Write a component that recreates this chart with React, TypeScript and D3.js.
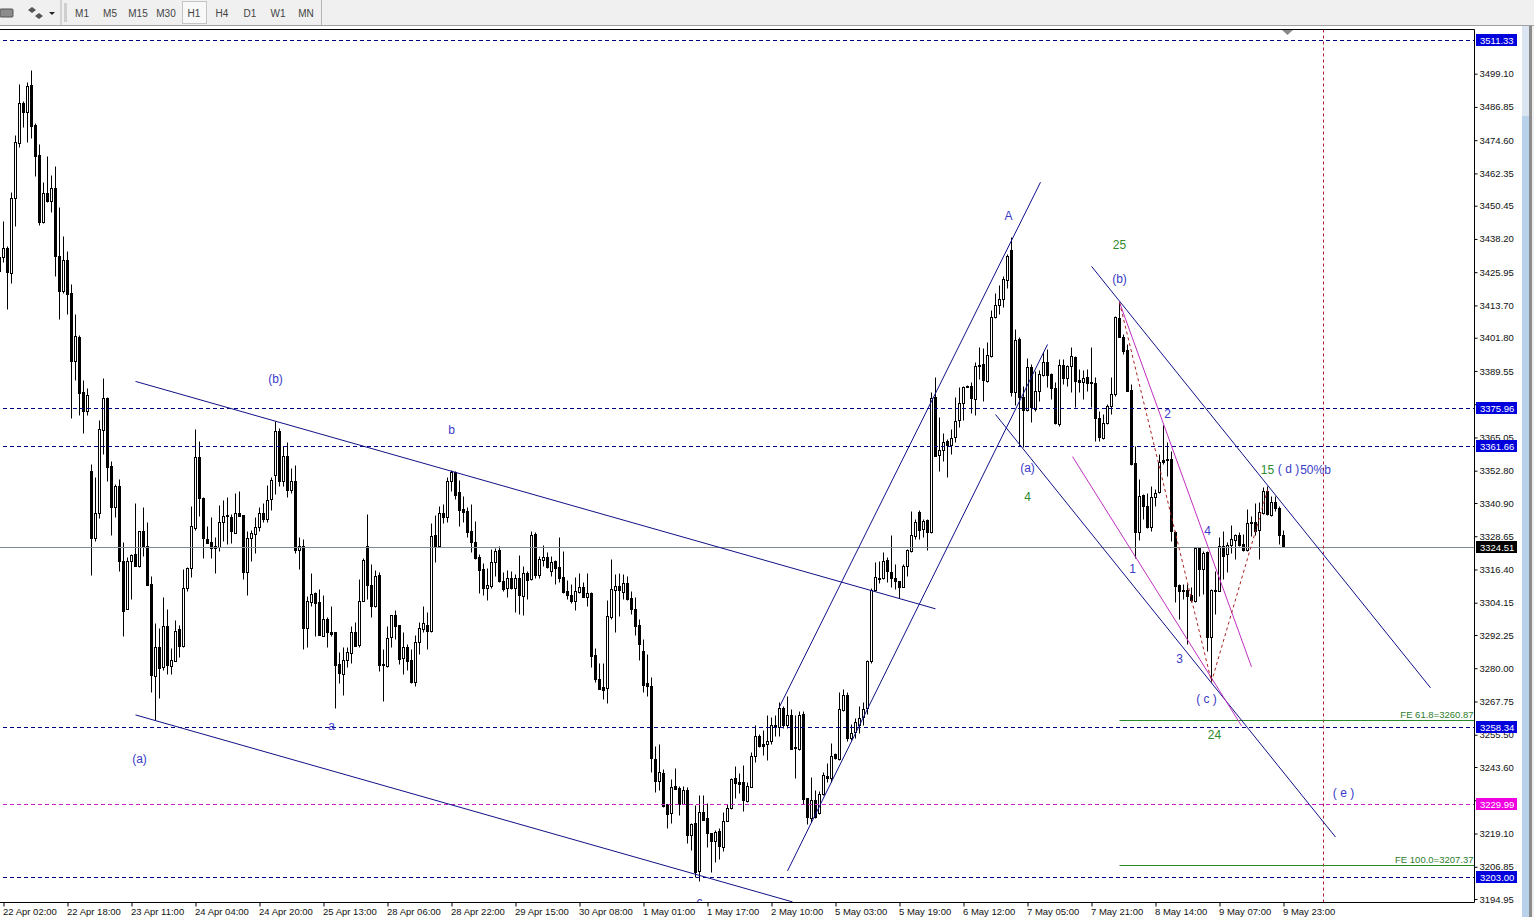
import { useEffect, useRef } from "react";
import * as d3 from "d3";

const opens = [
  3431.4,3431.4,3434.8,3425.5,3453.2,3473.5,3488.2,3484.9,3494.9,3480.1,
  3469.1,3444.3,3455.0,3452.1,3456.9,3431.8,3418.9,3430.3,3418.2,3393.1,
  3401.9,3381.6,3374.6,3352.5,3327.8,3337.0,3367.6,3379.4,3354.3,3339.2,
  3347.0,3319.3,3301.6,3319.3,3321.9,3317.4,3330.3,3324.8,3310.8,3276.9,
  3287.9,3280.2,3295.3,3280.9,3282.8,3294.2,3287.9,3309.3,3316.7,3331.5,
  3357.6,3342.5,3327.4,3326.3,3324.1,3324.4,3333.7,3336.2,3335.5,3329.6,
  3337.0,3336.2,3315.2,3327.8,3329.2,3331.8,3337.0,3334.8,3342.2,3351.0,
  3367.2,3348.8,3358.0,3345.5,3348.8,3323.3,3324.8,3294.6,3304.2,3307.5,
  3304.2,3292.0,3298.2,3293.4,3293.1,3281.6,3278.0,3282.8,3285.7,3293.4,
  3288.3,3304.5,3324.8,3310.4,3302.7,3314.1,3281.3,3280.9,3291.2,3299.4,
  3295.7,3283.5,3287.6,3282.8,3274.6,3289.4,3294.2,3295.7,3293.4,3328.9,
  3324.8,3337.0,3335.5,3348.8,3352.1,3344.7,3338.5,3337.7,3330.3,3326.3,
  3320.8,3316.3,3309.3,3310.1,3318.9,3323.3,3311.9,3309.3,3313.0,3309.3,
  3313.0,3306.4,3314.9,3312.6,3329.2,3314.1,3319.6,3320.8,3315.6,3319.3,
  3317.1,3313.4,3308.2,3306.7,3304.5,3307.8,3309.7,3306.0,3307.5,3284.6,
  3276.1,3272.8,3272.4,3298.6,3308.6,3310.1,3307.8,3311.2,3305.6,3301.9,
  3296.0,3286.4,3274.3,3273.2,3246.6,3238.5,3241.4,3230.0,3226.7,3236.6,
  3235.9,3230.0,3235.2,3218.6,3223.0,3205.3,3227.1,3224.8,3219.3,3216.3,
  3220.0,3214.1,3223.7,3228.5,3239.6,3238.1,3237.8,3231.1,3236.3,3247.7,
  3255.1,3252.1,3251.8,3252.9,3258.8,3258.4,3265.4,3259.1,3262.8,3250.7,
  3250.3,3263.2,3231.9,3224.8,3231.5,3226.7,3233.7,3240.0,3239.6,3248.4,
  3246.6,3264.7,3270.2,3254.3,3256.2,3259.1,3262.1,3265.0,3282.4,3308.6,
  3313.0,3313.0,3319.6,3315.2,3313.0,3311.9,3309.7,3317.4,3323.0,3328.5,
  3337.4,3331.1,3334.4,3330.0,3379.8,3358.4,3360.2,3363.5,3362.1,3365.0,
  3371.3,3377.6,3383.8,3383.8,3379.0,3391.2,3391.9,3385.7,3394.9,3409.3,
  3413.7,3415.9,3422.9,3434.0,3381.6,3401.2,3379.8,3375.0,3390.8,3375.4,
  3382.0,3387.9,3392.7,3388.3,3383.1,3369.8,3391.6,3386.8,3391.2,3394.5,
  3386.0,3385.3,3387.2,3385.3,3384.9,3372.0,3364.7,3370.2,3376.5,3380.9,
  3408.9,3401.9,3397.1,3382.4,3355.4,3330.0,3343.6,3339.6,3331.8,3342.9,
  3344.7,3356.5,3356.9,3356.9,3330.0,3310.4,3308.6,3308.6,3306.7,3304.5,
  3324.1,3316.3,3322.6,3291.2,3308.6,3308.2,3324.8,3321.9,3325.2,3327.0,
  3328.9,3325.5,3323.3,3333.7,3333.7,3330.7,3337.0,3345.1,3336.2,3341.0,
  3338.8,3328.9,
];
const highs = [
  3431.4,3444.7,3435.5,3455.4,3476.4,3495.2,3489.0,3496.0,3500.4,3480.9,
  3473.1,3459.1,3468.7,3461.7,3465.0,3449.9,3439.2,3433.6,3421.5,3410.4,
  3402.6,3386.0,3383.1,3355.1,3350.3,3371.3,3386.8,3379.8,3356.2,3347.7,
  3349.5,3326.3,3320.8,3321.9,3340.7,3330.3,3339.2,3333.7,3313.7,3296.4,
  3294.6,3306.0,3301.6,3287.2,3297.5,3295.7,3316.3,3317.1,3339.6,3368.0,
  3363.5,3342.9,3332.2,3335.5,3328.1,3339.9,3341.8,3342.9,3336.6,3344.4,
  3345.1,3336.2,3330.3,3330.7,3335.5,3339.2,3340.7,3347.3,3350.3,3370.9,
  3368.4,3361.7,3363.2,3353.6,3354.7,3328.1,3327.4,3306.4,3314.9,3307.9,
  3309.0,3306.7,3298.6,3303.0,3293.1,3285.7,3287.9,3287.6,3295.3,3297.1,
  3312.6,3320.4,3336.6,3318.2,3316.0,3315.2,3286.8,3295.3,3299.4,3301.2,
  3295.7,3293.1,3288.7,3286.8,3292.0,3297.1,3302.7,3300.8,3333.3,3336.2,
  3339.6,3340.3,3350.3,3352.8,3352.5,3349.2,3343.3,3339.2,3340.3,3334.0,
  3321.9,3318.5,3316.7,3323.7,3324.1,3324.8,3315.2,3316.0,3315.6,3314.5,
  3321.5,3317.4,3315.6,3330.3,3330.0,3321.1,3325.2,3322.6,3321.1,3319.6,
  3328.1,3323.0,3312.3,3310.8,3313.4,3314.9,3311.5,3314.9,3307.9,3287.2,
  3282.0,3282.0,3304.9,3320.0,3314.5,3314.9,3314.5,3313.7,3308.2,3306.0,
  3298.2,3290.5,3285.3,3276.5,3251.4,3252.1,3242.6,3230.0,3239.2,3243.3,
  3236.6,3236.6,3236.3,3223.0,3229.6,3233.0,3233.3,3230.4,3219.3,3220.4,
  3221.1,3227.1,3230.0,3239.6,3243.7,3241.4,3244.4,3237.8,3249.2,3258.8,
  3255.5,3257.3,3262.5,3262.1,3262.8,3267.3,3265.8,3269.5,3265.0,3262.8,
  3264.3,3264.3,3232.2,3239.9,3235.2,3234.8,3241.8,3245.1,3252.5,3248.8,
  3271.0,3272.4,3271.0,3259.5,3261.7,3265.8,3267.6,3283.1,3309.3,3318.9,
  3319.3,3322.6,3320.8,3328.9,3318.2,3311.9,3318.2,3323.7,3337.7,3334.8,
  3338.1,3334.8,3334.8,3381.6,3387.2,3372.4,3366.5,3364.3,3368.0,3379.8,
  3383.5,3383.8,3384.2,3385.3,3392.7,3398.2,3397.9,3400.1,3411.9,3418.1,
  3421.1,3424.4,3432.5,3438.8,3404.9,3401.9,3383.8,3394.2,3392.0,3389.4,
  3389.7,3396.4,3397.5,3388.6,3385.3,3393.8,3393.8,3391.6,3398.2,3394.9,
  3390.1,3389.7,3390.1,3398.2,3387.2,3374.6,3373.5,3377.2,3387.2,3409.7,
  3414.8,3403.0,3399.3,3384.6,3361.7,3349.5,3344.0,3344.4,3346.9,3345.8,
  3358.8,3369.5,3363.2,3359.9,3330.3,3310.8,3310.8,3310.8,3310.0,3324.4,
  3324.4,3323.0,3323.0,3309.0,3315.6,3328.1,3330.3,3326.3,3332.6,3329.2,
  3330.0,3329.2,3338.5,3335.9,3340.7,3341.0,3346.6,3346.9,3343.3,3343.3,
  3339.6,3330.7,
];
const lows = [
  3420.7,3429.6,3412.2,3421.8,3442.9,3472.0,3479.4,3473.9,3475.3,3461.3,
  3443.2,3444.0,3451.7,3448.0,3424.4,3408.6,3418.2,3410.4,3372.0,3386.0,
  3373.1,3366.5,3373.1,3314.1,3326.7,3335.1,3358.8,3348.8,3328.9,3335.5,
  3315.6,3291.6,3301.6,3305.3,3317.4,3317.1,3321.1,3310.4,3271.0,3261.0,
  3269.1,3279.4,3277.6,3277.6,3282.4,3283.9,3287.9,3308.2,3313.4,3330.7,
  3335.9,3320.4,3325.9,3320.4,3314.9,3323.0,3326.7,3325.5,3325.9,3329.6,
  3335.9,3312.6,3306.7,3319.3,3322.2,3330.3,3333.7,3333.7,3338.1,3344.0,
  3347.0,3347.0,3342.9,3344.4,3322.2,3316.3,3286.8,3287.6,3303.0,3291.6,
  3292.0,3292.0,3287.9,3291.6,3265.4,3274.6,3270.2,3280.2,3282.0,3288.3,
  3287.6,3304.5,3305.3,3298.6,3302.3,3278.7,3268.0,3280.5,3287.6,3290.5,
  3281.3,3277.6,3279.4,3274.6,3273.2,3285.0,3293.1,3286.8,3293.4,3318.9,
  3324.8,3333.3,3333.7,3345.1,3342.2,3332.2,3333.7,3328.1,3322.6,3320.0,
  3307.8,3306.7,3304.9,3309.3,3313.7,3311.5,3308.2,3306.0,3309.0,3300.5,
  3299.7,3299.4,3305.3,3312.3,3313.0,3313.0,3317.4,3316.7,3313.7,3310.8,
  3311.5,3307.8,3305.3,3303.8,3301.2,3307.8,3306.0,3303.0,3280.2,3275.0,
  3272.1,3268.4,3266.9,3298.2,3293.1,3299.0,3305.3,3304.9,3299.7,3292.0,
  3282.8,3271.0,3269.8,3241.8,3234.4,3235.2,3228.9,3221.1,3223.0,3235.5,
  3225.9,3230.0,3215.6,3213.0,3203.1,3201.6,3224.1,3214.1,3204.9,3208.6,
  3209.7,3212.7,3223.7,3228.2,3232.2,3234.1,3227.4,3230.7,3236.3,3245.5,
  3250.7,3248.1,3245.9,3251.8,3255.1,3255.1,3257.7,3258.0,3250.3,3239.6,
  3249.9,3230.0,3222.6,3223.4,3224.8,3226.3,3233.3,3238.1,3238.1,3246.6,
  3246.2,3264.3,3253.2,3253.6,3254.3,3256.2,3259.1,3263.2,3282.0,3308.2,
  3311.2,3312.6,3311.5,3309.7,3309.0,3305.6,3309.7,3313.7,3322.6,3327.4,
  3327.4,3328.1,3323.3,3329.6,3358.0,3352.5,3356.2,3350.3,3358.8,3363.2,
  3368.7,3371.3,3383.5,3373.9,3373.1,3386.4,3378.3,3385.3,3394.5,3408.9,
  3410.4,3413.0,3420.0,3380.1,3376.8,3361.7,3361.3,3374.6,3370.6,3374.6,
  3378.3,3387.5,3383.5,3379.0,3369.8,3369.1,3384.6,3383.8,3381.6,3376.1,
  3381.6,3379.0,3382.0,3376.1,3363.5,3363.5,3364.3,3369.8,3373.5,3380.1,
  3401.9,3395.6,3382.0,3354.7,3320.4,3327.0,3334.8,3331.5,3330.3,3339.6,
  3344.4,3355.1,3350.6,3326.7,3304.2,3298.2,3305.3,3289.0,3304.2,3304.2,
  3306.4,3307.1,3286.4,3275.0,3299.7,3308.2,3312.6,3315.2,3322.2,3320.0,
  3324.8,3323.0,3323.0,3328.5,3328.9,3320.0,3336.6,3336.2,3335.9,3337.7,
  3325.5,3324.4,
];
const closes = [
  3426.2,3434.8,3425.9,3453.2,3473.9,3488.2,3484.9,3494.5,3479.7,3468.7,
  3444.3,3455.0,3452.1,3456.9,3431.8,3418.9,3430.3,3417.8,3393.1,3402.3,
  3381.2,3374.6,3380.5,3327.8,3337.0,3368.0,3379.4,3353.9,3339.2,3347.0,
  3319.3,3300.8,3319.3,3321.5,3317.4,3330.3,3324.8,3310.4,3277.2,3287.6,
  3280.2,3295.3,3280.9,3283.1,3293.8,3287.9,3309.3,3316.7,3332.2,3357.6,
  3342.5,3327.8,3325.9,3324.1,3324.8,3333.7,3335.9,3335.9,3330.3,3337.0,
  3335.9,3315.2,3327.8,3329.6,3331.8,3337.0,3334.8,3341.8,3349.2,3367.2,
  3348.8,3358.0,3345.5,3348.8,3323.3,3324.8,3294.6,3304.5,3307.1,3303.8,
  3292.0,3298.2,3293.4,3292.7,3280.9,3278.3,3283.1,3285.7,3293.4,3288.3,
  3304.5,3319.6,3310.4,3302.7,3313.7,3280.9,3280.9,3291.2,3299.4,3295.3,
  3283.1,3287.6,3282.4,3274.6,3289.4,3294.6,3296.4,3293.4,3328.5,3324.8,
  3337.0,3335.5,3348.8,3352.1,3343.6,3338.1,3337.4,3330.0,3326.3,3320.4,
  3316.0,3309.3,3310.4,3318.9,3323.0,3311.9,3309.0,3313.0,3309.3,3313.0,
  3306.7,3314.9,3312.3,3328.9,3314.1,3320.0,3320.8,3317.1,3318.9,3316.7,
  3313.0,3307.8,3306.7,3304.5,3308.2,3309.7,3306.0,3307.5,3284.2,3275.8,
  3272.4,3271.7,3299.0,3309.0,3310.1,3308.6,3311.2,3305.3,3301.6,3295.7,
  3289.0,3273.9,3273.2,3246.6,3238.5,3241.8,3229.3,3226.3,3236.3,3235.5,
  3230.0,3235.2,3218.6,3222.6,3204.9,3227.1,3224.1,3219.3,3216.3,3219.7,
  3214.5,3223.7,3228.5,3239.2,3237.8,3237.4,3231.1,3236.6,3247.7,3255.1,
  3251.4,3251.4,3252.9,3258.8,3258.4,3265.4,3259.1,3262.8,3250.3,3250.3,
  3262.8,3231.9,3224.8,3231.5,3225.2,3233.7,3240.7,3239.2,3247.7,3247.0,
  3265.0,3270.2,3254.3,3256.2,3259.9,3261.7,3265.0,3282.4,3308.6,3313.4,
  3312.6,3319.3,3315.6,3313.0,3311.9,3309.7,3317.4,3323.3,3328.9,3333.7,
  3330.7,3334.0,3330.0,3379.4,3358.0,3360.2,3363.2,3362.1,3364.7,3370.9,
  3377.6,3383.5,3383.5,3379.4,3391.2,3391.6,3386.0,3395.3,3409.3,3413.7,
  3415.9,3423.3,3431.8,3381.6,3400.8,3379.8,3375.0,3390.8,3376.1,3382.0,
  3388.3,3392.7,3387.9,3383.1,3370.2,3391.6,3386.8,3391.2,3394.9,3385.7,
  3385.3,3386.8,3384.9,3384.9,3372.0,3365.0,3370.2,3376.5,3380.9,3409.3,
  3401.9,3396.7,3382.0,3355.1,3330.0,3343.3,3339.6,3331.8,3342.9,3344.4,
  3355.8,3355.8,3356.5,3330.3,3310.1,3308.2,3308.2,3306.4,3304.9,3324.1,
  3316.3,3322.2,3291.2,3308.6,3308.2,3324.8,3321.1,3325.2,3327.4,3328.9,
  3325.2,3323.3,3333.3,3333.3,3330.3,3337.4,3345.1,3336.6,3341.0,3338.8,
  3328.9,3324.5,
];

const priceTicks = [
  3499.1, 3486.85, 3474.6, 3462.35, 3450.45, 3438.2, 3425.95, 3413.7, 3401.8, 3389.55, 3377.3, 3365.05, 3352.8,
  3340.9, 3328.65, 3316.4, 3304.15, 3292.25, 3280.0, 3267.75, 3255.5, 3243.6, 3231.35, 3219.1, 3206.85, 3194.95,
];
const timeLabels = [
  "22 Apr 02:00", "22 Apr 18:00", "23 Apr 11:00", "24 Apr 04:00", "24 Apr 20:00", "25 Apr 13:00", "28 Apr 06:00",
  "28 Apr 22:00", "29 Apr 15:00", "30 Apr 08:00", "1 May 01:00", "1 May 17:00", "2 May 10:00", "5 May 03:00",
  "5 May 19:00", "6 May 12:00", "7 May 05:00", "7 May 21:00", "8 May 14:00", "9 May 07:00", "9 May 23:00",
];
const timeframes = ["M1", "M5", "M15", "M30", "H1", "H4", "D1", "W1", "MN"];

// horizontal levels: price, colour of line and flag
const levels: [number, string, string][] = [
  [3511.33, "#000080", "#0000dd"],
  [3375.96, "#000080", "#0000dd"],
  [3361.66, "#000080", "#0000dd"],
  [3258.34, "#000080", "#0000dd"],
  [3229.99, "#c81ec8", "#f000e0"],
  [3203.0, "#000080", "#0000dd"],
];
const lastPrice = 3324.51;
const fibLevels: [number, string][] = [
  [3260.87, "FE 61.8=3260.87"],
  [3207.37, "FE 100.0=3207.37"],
];
const fibStartBar = 280;
const periodSeparatorBar = 331;

// trend lines as [bar, price, bar, price]
const navyLines = [
  [34, 3385.7, 234, 3301.9],
  [34, 3262.8, 198.25, 3193.9],
  [195, 3265.8, 260.25, 3459.1],
  [197, 3205.3, 262, 3399.3],
  [249, 3373.5, 334, 3217.8],
  [273, 3428.1, 357.75, 3272.8],
];
const magentaLines = [
  [268.25, 3358.0, 310.5, 3258.8],
  [280, 3414.8, 313, 3280.5],
];
const zigzag: [number, number][] = [
  [280, 3414.8],
  [303, 3275.0],
  [317.25, 3346.9],
];

const BLUE = "#3a3ac8";
const GREEN = "#2e8b2e";
const waveLabels: [string, number, number, string][] = [
  ["(b)", 69, 3386.8, BLUE],
  ["b", 113, 3368.0, BLUE],
  ["a", 83, 3259.1, BLUE],
  ["(a)", 35, 3247.0, BLUE],
  ["c", 175, 3194.2, BLUE],
  ["A", 252.25, 3446.9, BLUE],
  ["25", 280, 3436.2, GREEN],
  ["(b)", 280, 3423.7, BLUE],
  ["(a)", 257, 3354.3, BLUE],
  ["4", 257, 3343.3, GREEN],
  ["2", 292, 3374.2, BLUE],
  ["4", 302, 3331.1, BLUE],
  ["1", 283.25, 3317.1, BLUE],
  ["3", 295, 3283.9, BLUE],
  ["( c )", 301.75, 3269.1, BLUE],
  ["24", 303.75, 3255.8, GREEN],
  ["15", 317, 3353.6, GREEN],
  ["( d )", 322.25, 3353.9, BLUE],
  ["50%b", 329, 3353.6, BLUE],
  ["( e )", 336, 3234.4, BLUE],
];

const FONT = "'Liberation Sans', sans-serif";
const PLOT_RIGHT = 1474.5;
const PLOT_TOP = 29.5;
const PLOT_BOTTOM = 902.5;

export default function App() {
  const svgRef = useRef<SVGSVGElement>(null);

  useEffect(() => {
    if (!svgRef.current) return;
    const svg = d3.select(svgRef.current);
    svg.selectAll("*").remove();

    // one bar is 4 px wide, bar 0 hangs half off the left edge
    const x = d3.scaleLinear().domain([0, 321]).range([-0.5, 1283.5]);
    const y = d3.scaleLinear().domain([3203, 3511.33]).range([877.2, 40.5]);
    const snap = (v: number) => Math.floor(v + 0.2) + 0.5;

    // toolbar
    const bar = svg.append("g");
    bar.append("rect").attr("width", 1534).attr("height", 25).attr("fill", "#f0f0f0");
    bar.append("rect").attr("y", 25).attr("width", 1534).attr("height", 1).attr("fill", "#a0a0a0");
    bar.append("rect").attr("x", 0).attr("y", 9).attr("width", 13).attr("height", 8).attr("rx", 1)
      .attr("fill", "#8c8c8c").attr("stroke", "#555");
    bar.append("path").attr("d", "M28 10l4-3 4 3-4 3zM35 16l4-3 4 3-4 3z").attr("fill", "#555");
    bar.append("path").attr("d", "M49 12h6l-3 3z").attr("fill", "#222");
    bar.append("rect").attr("x", 60.5).attr("y", 0).attr("width", 1).attr("height", 25).attr("fill", "#b4b4b4");
    bar.append("rect").attr("x", 64).attr("y", 3).attr("width", 3).attr("height", 19).attr("fill", "#cfcfcf");
    bar.append("rect").attr("x", 321).attr("y", 0).attr("width", 1).attr("height", 25).attr("fill", "#b4b4b4");
    bar.append("rect").attr("x", 182.5).attr("y", 1.5).attr("width", 24).attr("height", 22)
      .attr("fill", "#f8f8f8").attr("stroke", "#c4c4c4");
    const tf = d3.scalePoint<string>().domain(timeframes).range([82, 306]);
    bar.selectAll("text.tf").data(timeframes).join("text")
      .attr("class", "tf")
      .attr("x", (d) => tf(d)!)
      .attr("y", 17)
      .attr("text-anchor", "middle")
      .attr("font-family", FONT)
      .attr("font-size", 10)
      .attr("fill", "#444")
      .text((d) => d);

    // scrollbar strip on the far right
    svg.append("rect").attr("x", 1522).attr("y", 26).attr("width", 7).attr("height", 891).attr("fill", "#b9d1ea");
    svg.append("rect").attr("x", 1522).attr("y", 26).attr("width", 7).attr("height", 90).attr("fill", "#dbe6f2");
    svg.append("rect").attr("x", 1529).attr("y", 26).attr("width", 3).attr("height", 891).attr("fill", "#8c8c8c");
    svg.append("rect").attr("x", 1532).attr("y", 26).attr("width", 2).attr("height", 891).attr("fill", "#f0f0f0");

    svg.append("defs").append("clipPath").attr("id", "plot").append("rect")
      .attr("x", 0).attr("y", PLOT_TOP).attr("width", PLOT_RIGHT).attr("height", PLOT_BOTTOM - PLOT_TOP);
    const plot = svg.append("g").attr("clip-path", "url(#plot)");

    // candles
    const bars = d3.range(opens.length);
    const candle = plot.selectAll("g.candle").data(bars).join("g").attr("class", "candle");
    candle.append("line")
      .attr("x1", (i) => x(i)).attr("x2", (i) => x(i))
      .attr("y1", (i) => snap(y(highs[i])))
      .attr("y2", (i) => snap(y(lows[i])))
      .attr("stroke", "#000");
    candle.append("rect")
      .attr("x", (i) => x(i) - 1)
      .attr("width", 2)
      .attr("y", (i) => snap(y(Math.max(opens[i], closes[i]))))
      .attr("height", (i) => Math.max(1, Math.round(Math.abs(y(opens[i]) - y(closes[i])))))
      .attr("fill", (i) => (closes[i] >= opens[i] ? "#fff" : "#000"))
      .attr("stroke", "#000");

    // horizontal levels
    plot.selectAll("line.level").data(levels).join("line")
      .attr("class", "level")
      .attr("x1", 3).attr("x2", PLOT_RIGHT)
      .attr("y1", (d) => snap(y(d[0]))).attr("y2", (d) => snap(y(d[0])))
      .attr("stroke", (d) => d[1])
      .attr("stroke-dasharray", "4 3");
    plot.append("line")
      .attr("x1", 0).attr("x2", PLOT_RIGHT)
      .attr("y1", snap(y(lastPrice))).attr("y2", snap(y(lastPrice)))
      .attr("stroke", "#808890");
    plot.append("line")
      .attr("x1", snap(x(periodSeparatorBar))).attr("x2", snap(x(periodSeparatorBar)))
      .attr("y1", PLOT_TOP).attr("y2", PLOT_BOTTOM)
      .attr("stroke", "#b01838")
      .attr("stroke-dasharray", "3 3");

    // fibo expansion levels
    plot.selectAll("line.fib").data(fibLevels).join("line")
      .attr("class", "fib")
      .attr("x1", x(fibStartBar)).attr("x2", PLOT_RIGHT)
      .attr("y1", (d) => snap(y(d[0]))).attr("y2", (d) => snap(y(d[0])))
      .attr("stroke", "#2a8a2a");
    plot.selectAll("text.fib").data(fibLevels).join("text")
      .attr("class", "fib")
      .attr("x", PLOT_RIGHT - 1)
      .attr("y", (d) => y(d[0]) - 2)
      .attr("text-anchor", "end")
      .attr("font-family", FONT)
      .attr("font-size", 9.5)
      .attr("fill", "#2e7d2e")
      .text((d) => d[1]);

    // trend lines
    const drawLines = (rows: number[][], colour: string, name: string) =>
      plot.selectAll(`line.${name}`).data(rows).join("line")
        .attr("class", name)
        .attr("x1", (d) => x(d[0])).attr("y1", (d) => y(d[1]))
        .attr("x2", (d) => x(d[2])).attr("y2", (d) => y(d[3]))
        .attr("stroke", colour)
        .attr("stroke-width", 1);
    drawLines(navyLines, "#101088", "navy");
    drawLines(magentaLines, "#c030c0", "magenta");
    const zig = d3.line<[number, number]>().x((d) => x(d[0])).y((d) => y(d[1]));
    plot.append("path")
      .attr("d", zig(zigzag)!)
      .attr("fill", "none")
      .attr("stroke", "#a82020")
      .attr("stroke-dasharray", "3 3");

    // wave counts
    plot.selectAll("text.wave").data(waveLabels).join("text")
      .attr("class", "wave")
      .attr("x", (d) => x(d[1]))
      .attr("y", (d) => y(d[2]) + 5)
      .attr("text-anchor", "middle")
      .attr("font-family", FONT)
      .attr("font-size", 12)
      .attr("fill", (d) => d[3])
      .text((d) => d[0]);

    // shift marker
    svg.append("path").attr("d", "M1282 30h11l-5.5 5z").attr("fill", "#8a8a8a");

    // frame
    svg.append("path")
      .attr("d", `M0 ${PLOT_TOP}H${PLOT_RIGHT}V${PLOT_BOTTOM}H0`)
      .attr("fill", "none")
      .attr("stroke", "#000");

    // price axis
    const yAxis = svg.append("g")
      .attr("transform", `translate(${PLOT_RIGHT},0)`)
      .call(d3.axisRight(y).tickValues(priceTicks).tickSize(3).tickPadding(2).tickFormat((d) => (+d).toFixed(2)));
    yAxis.select(".domain").remove();
    yAxis.selectAll("text").attr("font-family", FONT).attr("font-size", 9.5).attr("fill", "#111");
    yAxis.selectAll("line").attr("stroke", "#000");

    // time axis
    const tickBars = timeLabels.map((_, i) => 1 + 16 * i);
    const xAxis = svg.append("g")
      .attr("transform", `translate(0,${PLOT_BOTTOM})`)
      .call(
        d3.axisBottom(x).tickValues(tickBars).tickSize(4).tickPadding(2)
          .tickFormat((_, i) => timeLabels[i])
      );
    xAxis.select(".domain").remove();
    xAxis.selectAll("text").attr("font-family", FONT).attr("font-size", 9.5).attr("fill", "#111")
      .attr("text-anchor", "start").attr("x", -1);
    xAxis.selectAll("line").attr("stroke", "#000");

    // price flags
    const flag = svg.selectAll("g.flag")
      .data([...levels.map((d) => [d[0], d[2]] as [number, string]), [lastPrice, "#000"] as [number, string]])
      .join("g")
      .attr("class", "flag")
      .attr("transform", (d) => `translate(1476,${Math.floor(y(d[0]) + 0.2) - 6})`);
    flag.append("rect").attr("width", 41).attr("height", 12).attr("fill", (d) => d[1]);
    flag.append("text")
      .attr("x", 4).attr("y", 9.5)
      .attr("font-family", FONT)
      .attr("font-size", 9.5)
      .attr("fill", "#fff")
      .text((d) => d[0].toFixed(2));
  }, []);

  return (
    <svg
      ref={svgRef}
      width={1534}
      height={917}
      style={{ position: "absolute", left: 0, top: 0, background: "#fff" }}
    />
  );
}
